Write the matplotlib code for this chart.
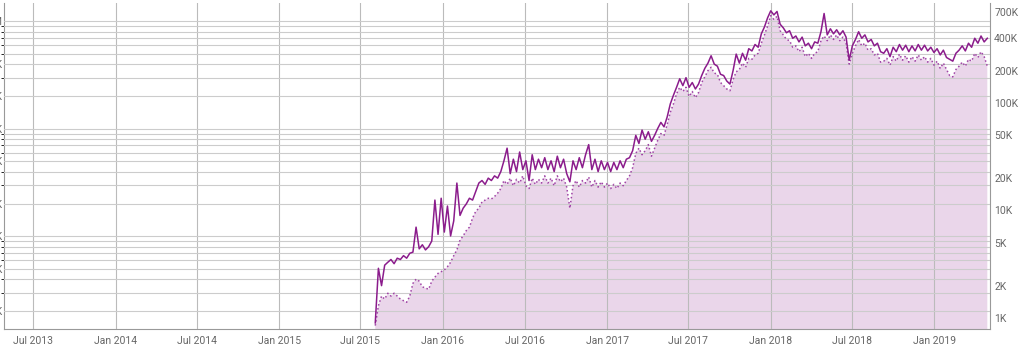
import matplotlib.pyplot as plt
import matplotlib.dates as mdates
import matplotlib.ticker as mticker
import numpy as np
import pandas as pd

plt.rcParams['font.family'] = ['Roboto', 'DejaVu Sans']

# weekly values, thousands
start = '2015-08-03'
solid = [0.9, 2.9, 2.0, 3.1, 3.3, 3.5, 3.2, 3.6, 3.5, 3.8,
         3.6, 4.0, 4.1, 7.0, 4.4, 4.8, 4.3, 4.6, 5.2, 12.5,
         6.0, 13.0, 6.3, 11.0, 5.8, 8.0, 18.0, 9.0, 10.5, 11.5,
         13.0, 12.5, 15.0, 18.0, 19.0, 17.5, 20.0, 19.0, 21.0, 20.0,
         23.0, 29.0, 38.0, 22.0, 30.0, 23.0, 35.0, 24.0, 29.0, 19.0,
         33.0, 24.0, 30.0, 25.0, 31.0, 24.0, 29.0, 23.0, 32.0, 25.0,
         30.0, 22.0, 18.5, 29.0, 24.0, 31.0, 25.0, 33.0, 41.0, 24.0,
         30.0, 23.0, 29.0, 24.0, 28.0, 23.0, 28.0, 24.0, 29.0, 25.0,
         30.0, 31.0, 36.0, 50.0, 42.0, 56.0, 46.0, 54.0, 44.0, 50.0,
         58.0, 66.0, 60.0, 74.0, 98.0, 118.0, 140.0, 168.0, 145.0, 172.0,
         140.0, 155.0, 135.0, 150.0, 180.0, 210.0, 235.0, 275.0, 230.0, 220.0,
         185.0, 180.0, 160.0, 150.0, 200.0, 285.0, 235.0, 290.0, 250.0, 320.0,
         305.0, 350.0, 330.0, 440.0, 510.0, 620.0, 720.0, 660.0, 710.0, 540.0,
         500.0, 450.0, 470.0, 400.0, 420.0, 370.0, 410.0, 340.0, 360.0, 320.0,
         370.0, 360.0, 460.0, 680.0, 430.0, 490.0, 440.0, 480.0, 430.0, 470.0,
         410.0, 250.0, 340.0, 390.0, 460.0, 400.0, 430.0, 370.0, 390.0, 340.0,
         360.0, 300.0, 290.0, 320.0, 270.0, 330.0, 300.0, 350.0, 310.0, 345.0,
         300.0, 340.0, 305.0, 350.0, 310.0, 345.0, 305.0, 330.0, 295.0, 320.0,
         280.0, 310.0, 265.0, 255.0, 245.0, 290.0, 310.0, 340.0, 305.0, 360.0,
         330.0, 400.0, 360.0, 420.0, 370.0, 400.0]
dotted = [0.85, 1.3, 1.6, 1.5, 1.7, 1.6, 1.7, 1.6, 1.5, 1.45,
          1.4, 1.6, 2.1, 2.3, 2.2, 1.95, 1.9, 1.85, 2.2, 2.4,
          2.6, 2.7, 2.8, 3.0, 3.3, 3.8, 4.3, 5.3, 5.8, 6.5,
          7.0, 8.5, 9.8, 10.5, 12.0, 12.5, 13.0, 12.8, 13.5, 14.5,
          16.0, 19.0, 17.5, 20.0, 17.0, 19.5, 18.0, 21.0, 17.0, 16.0,
          20.0, 17.5, 19.5, 18.0, 21.0, 18.0, 20.0, 17.0, 21.0, 18.5,
          20.0, 16.5, 10.5, 17.0, 19.0, 16.5, 19.0, 18.0, 20.5, 16.5,
          19.0, 16.5, 18.5, 16.5, 18.0, 16.0, 17.5, 16.0, 18.0, 17.0,
          19.0, 21.0, 25.0, 34.0, 38.0, 33.0, 36.0, 41.0, 32.0, 38.0,
          45.0, 52.0, 50.0, 63.0, 82.0, 98.0, 122.0, 140.0, 128.0, 140.0,
          115.0, 128.0, 112.0, 125.0, 155.0, 175.0, 200.0, 215.0, 190.0, 185.0,
          155.0, 145.0, 135.0, 130.0, 165.0, 195.0, 205.0, 235.0, 215.0, 260.0,
          255.0, 280.0, 290.0, 360.0, 430.0, 520.0, 650.0, 600.0, 640.0, 470.0,
          430.0, 390.0, 380.0, 330.0, 340.0, 300.0, 330.0, 270.0, 290.0, 260.0,
          290.0, 300.0, 380.0, 420.0, 380.0, 430.0, 390.0, 430.0, 380.0, 410.0,
          360.0, 230.0, 290.0, 340.0, 390.0, 340.0, 360.0, 310.0, 320.0, 280.0,
          290.0, 240.0, 245.0, 260.0, 225.0, 270.0, 245.0, 285.0, 250.0, 275.0,
          240.0, 270.0, 245.0, 280.0, 250.0, 270.0, 240.0, 260.0, 225.0, 245.0,
          210.0, 235.0, 205.0, 180.0, 175.0, 205.0, 220.0, 240.0, 220.0, 255.0,
          245.0, 290.0, 265.0, 300.0, 270.0, 220.0]

right_ticks = [1e3, 2e3, 5e3, 1e4, 2e4, 5e4, 1e5, 2e5, 4e5, 7e5]
right_labels = ['1K', '2K', '5K', '10K', '20K', '50K', '100K', '200K', '400K', '700K']
left_ticks = [2e3, 5e3, 1e4, 2e4, 5e4, 1e5, 2e5, 4e5, 1e6]
left_labels = ['2K', '5K', '10K', '20K', '50K', '100K', '200K', '400K', '1M']

dates = pd.date_range(start, periods=len(solid), freq='7D')
s = np.array(solid) * 1000
d = np.array(dotted) * 1000

line_c = '#8b1c8c'
dot_c = '#a044a6'
fill_c = '#ead6ea'
text_c = '#666666'
k = 0.575  # left axis -> right axis scale

fig = plt.figure(figsize=(10.24, 3.47), dpi=100)
ax = fig.add_axes([4 / 1024, 17.7 / 347, 986 / 1024, 326 / 347])

ax.fill_between(dates, d, 1, color=fill_c, lw=0, zorder=1)
ax.plot(dates, d, color=dot_c, lw=1.1, ls=':', zorder=3)
ax.plot(dates, s, color=line_c, lw=1.1, zorder=3)

ax.set_yscale('log')
ax.set_ylim(785, 846000)
ax.set_xlim(pd.Timestamp('2013-04-27'), pd.Timestamp('2019-05-05'))

ax.yaxis.tick_right()
ax.yaxis.set_major_locator(mticker.FixedLocator(right_ticks))
ax.yaxis.set_major_formatter(mticker.FixedFormatter(right_labels))
grid_vals = [k * m * 10 ** n for n in range(3, 7) for m in range(1, 10)]
ax.yaxis.set_minor_locator(mticker.FixedLocator(grid_vals))
ax.yaxis.set_minor_formatter(mticker.NullFormatter())
ax.tick_params(axis='y', which='both', length=0, pad=3, labelsize=7.5, labelcolor=text_c)

ax.xaxis.set_major_locator(mdates.MonthLocator(bymonth=[1, 7]))
ax.xaxis.set_major_formatter(mdates.DateFormatter('%b %Y'))
ax.tick_params(axis='x', length=0, pad=5, labelsize=7.5, labelcolor=text_c)

ax.set_axisbelow(False)
ax.grid(True, axis='y', which='minor', color='#cccccc', lw=0.8, zorder=2)
ax.grid(True, axis='x', which='major', color='#bbbbbb', lw=0.8, zorder=2)

for side in ['left', 'bottom', 'right']:
    ax.spines[side].set_color('#999999')
    ax.spines[side].set_linewidth(0.8)
ax.spines['top'].set_visible(False)

# left axis labels sit mostly off the image, as in the original
sec = ax.secondary_yaxis('left', functions=(lambda v: v / k, lambda v: v * k))
sec.set_yticks(left_ticks)
sec.set_yticklabels(left_labels)
sec.tick_params(length=0, pad=1, labelsize=7.5, labelcolor=text_c)
sec.spines['left'].set_visible(False)

fig.savefig('out.png', dpi=100)
